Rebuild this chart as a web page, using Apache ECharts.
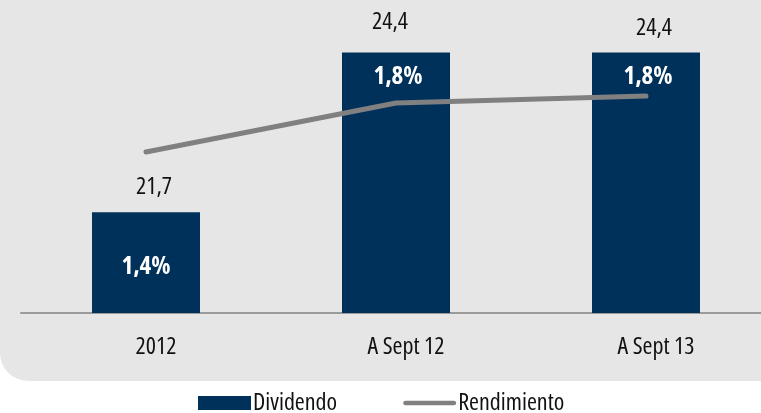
<!DOCTYPE html>
<html>
<head>
<meta charset="utf-8">
<script src="https://cdn.jsdelivr.net/npm/echarts@6/dist/echarts.min.js"></script>
<style>
html,body{margin:0;padding:0;background:#ffffff;}
#c{width:761px;height:413px;}
</style>
</head>
<body>
<div id="c"></div>
<script>
const categories = ['2012', 'A Sept 12', 'A Sept 13'];
const dividendo = [21.7, 24.4, 24.4];
const rendimiento = [1.4, 1.75, 1.8];

const FONT = '"Open Sans"';
const FS = 'condensed';
const comma = v => String(v).replace('.', ',');

const topOffsets = [[8, 0], [-6, -5], [8, 1]];

const chart = echarts.init(document.getElementById('c'));
chart.setOption({
  animation: false,
  backgroundColor: '#ffffff',
  textStyle: { fontFamily: FONT, fontStyle: FS },
  graphic: [{
    type: 'rect', z: -10, silent: true,
    shape: { x: 0, y: -40, width: 820, height: 421, r: [0, 0, 0, 28] },
    style: { fill: '#e6e6e6' }
  }],
  grid: { left: 21, width: 750, top: 17, bottom: 100, containLabel: false, outerBoundsMode: 'none' },
  legend: {
    data: [
      { name: 'Dividendo', icon: 'rect' },
      { name: 'Rendimiento', icon: 'path://M2.5,0 L53.5,0 A2.5,2.5 0 0 1 53.5,5 L2.5,5 A2.5,2.5 0 0 1 2.5,0 Z' }
    ],
    left: 193, top: 386,
    itemWidth: 53, itemHeight: 14, itemGap: 66,
    textStyle: { fontFamily: FONT, fontStyle: FS, fontSize: 24, color: '#111', padding: [0, 0, 0, -3] }
  },
  xAxis: {
    type: 'category', data: categories,
    axisLine: { lineStyle: { color: '#9a9a9a', width: 2 } },
    axisTick: { show: false },
    axisLabel: { fontFamily: FONT, fontStyle: FS, fontSize: 24, color: '#111', margin: 22, padding: [0, 0, 0, 20] }
  },
  yAxis: [
    { type: 'value', min: 20, max: 25, show: false, splitLine: { show: false } },
    { type: 'value', min: 0.25, max: 2.364, show: false, splitLine: { show: false } }
  ],
  series: [
    {
      name: 'Dividendo', type: 'bar', barWidth: 108,
      data: dividendo.map((v, i) => ({ value: v, label: { offset: topOffsets[i] } })),
      itemStyle: { color: '#00315a' },
      label: {
        show: true, position: 'top', distance: 13,
        fontFamily: FONT, fontStyle: FS, fontSize: 24, color: '#111',
        formatter: p => comma(p.value)
      },
      z: 2
    },
    {
      name: 'pct', type: 'bar', barWidth: 108, barGap: '-100%', silent: true,
      data: dividendo.map((v, i) => ({
        value: v,
        label: i === 0 ? { position: 'inside', offset: [0, 4] } : { position: 'insideTop', distance: 12, offset: [2, 0] }
      })),
      itemStyle: { color: 'rgba(0,0,0,0)' },
      label: {
        show: true, fontFamily: FONT, fontStyle: FS, fontSize: 25, fontWeight: 'bold', color: '#ffffff',
        formatter: p => comma(rendimiento[p.dataIndex].toFixed(1)) + '%'
      },
      z: 3
    },
    {
      name: 'Rendimiento', type: 'line', yAxisIndex: 1, data: rendimiento,
      symbol: 'none',
      lineStyle: { color: '#808080', width: 5, cap: 'round', join: 'round' },
      itemStyle: { color: '#808080' },
      z: 4
    }
  ]
});
</script>
</body>
</html>
